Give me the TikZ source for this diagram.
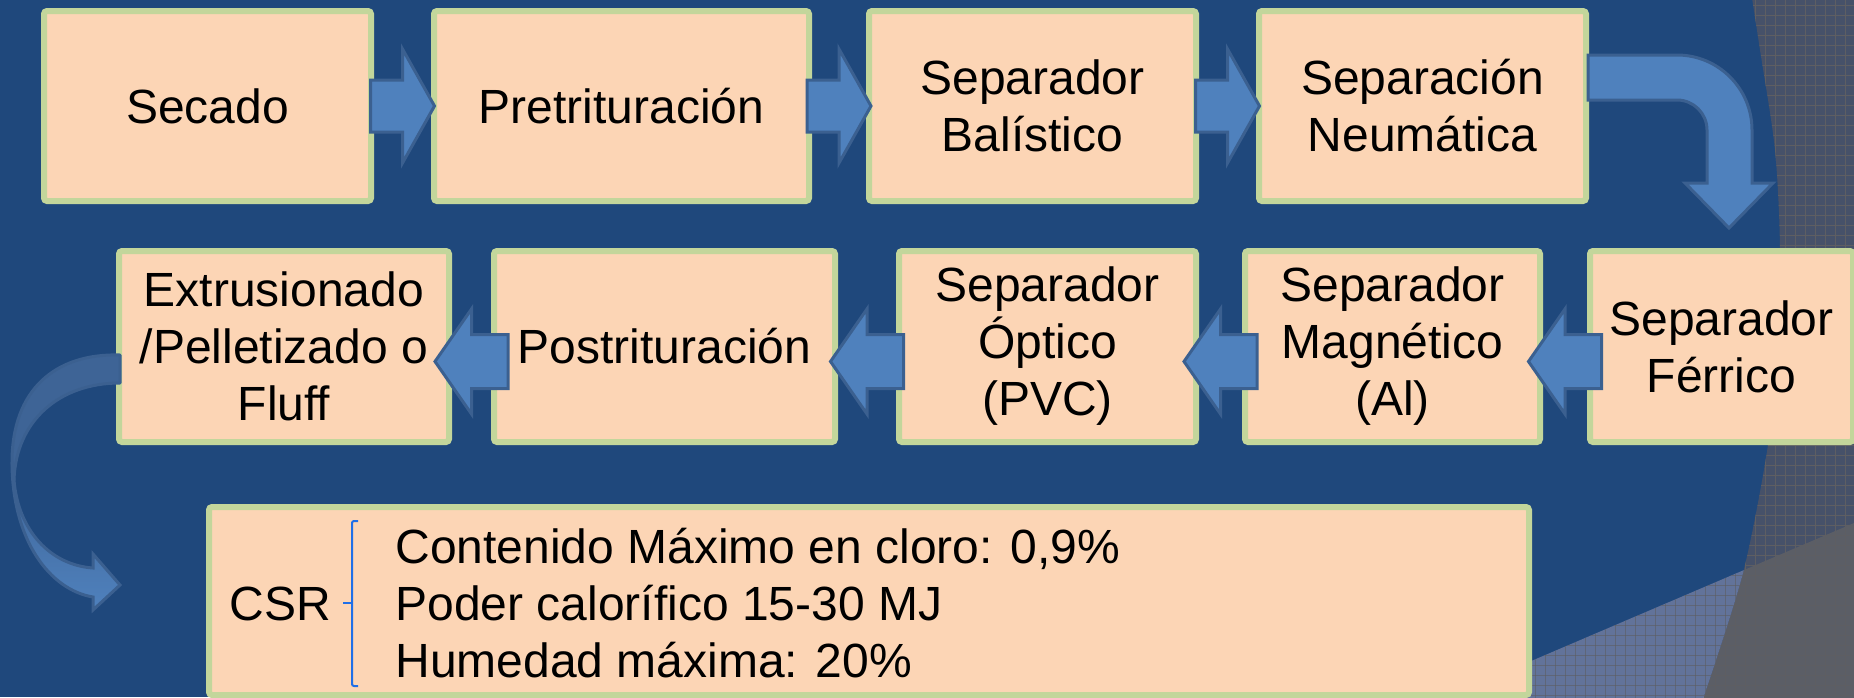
\documentclass[tikz,border=0pt]{standalone}
\usepackage{fontspec}
\setmainfont{Liberation Sans}
\usetikzlibrary{calc}
\definecolor{bgblue}{HTML}{1F487C}
\definecolor{boxfill}{HTML}{FCD5B5}
\definecolor{boxline}{HTML}{C3D69B}
\definecolor{arrfill}{HTML}{4F81BD}
\definecolor{arrline}{HTML}{3B6090}
\definecolor{arrdark}{HTML}{3E6496}
\definecolor{bracecol}{HTML}{1F6FE8}
\definecolor{texA}{HTML}{465169}
\definecolor{texB}{HTML}{62739A}
\definecolor{texC}{HTML}{5B5E66}
\definecolor{gridcol}{HTML}{5E5E62}
\tikzset{
  procbox/.style={draw=boxline, fill=boxfill, line width=3pt, rounded corners=1.5pt,
    align=center, font=\fontsize{24pt}{28.5pt}\selectfont, inner sep=0pt},
  blockarrow/.style={draw=arrline, fill=arrfill, line width=1.5pt, line join=miter},
  txt/.style={font=\fontsize{24pt}{28.5pt}\selectfont, inner sep=0pt},
  gridline/.style={draw=gridcol, line width=0.5pt},
  bracestyle/.style={draw=bracecol, line width=1pt},
}
\newcommand\arrowRight[2]{%
  \path ($(#1.east)!0.5!(#2.west)$) coordinate (m);
  \draw[blockarrow, shift={(m)}] (-32,-26) -- (0,-26) -- (0,-57) -- (32,0) -- (0,57) -- (0,26) -- (-32,26) -- cycle;}
\newcommand\arrowLeft[2]{%
  \path ($(#1.west)!0.5!(#2.east)$) coordinate (m);
  \draw[blockarrow, shift={(m)}] (36.5,-12) -- (0,-12) -- (0,-37.5) -- (-36.5,15) -- (0,67.5) -- (0,42) -- (36.5,42) -- cycle;}
\begin{document}
\begin{tikzpicture}[x=0.5pt, y=-0.5pt]
\useasboundingbox (0,0) rectangle (1854,697);
\fill[bgblue] (0,0) rectangle (1854,697);
% textured right-hand background
\begin{scope}
  \clip plot[smooth] coordinates {(1752,-2) (1760,50) (1775,150) (1780,250) (1777,350) (1768,445) (1743,573) (1703,699)} -- (1856,699) -- (1856,-2) -- cycle;
  \fill[texA] (1690,-2) rectangle (1856,699);
  \fill[texC] (1447,697) -- (1854,523) -- (1856,523) -- (1856,699) -- (1447,699) -- cycle;
  \foreach \gx in {1695,1705,...,1855} \draw[gridline] (\gx,-2) -- (\gx,699);
  \foreach \gy in {5,15,...,695} \draw[gridline] (1690,\gy) -- (1856,\gy);
\end{scope}
\begin{scope}
  \clip (1447,697) -- (1854,523) -- (1856,523) -- (1856,699) -- (1447,699) -- cycle;
  \clip plot[smooth] coordinates {(1752,-2) (1760,50) (1775,150) (1780,250) (1777,350) (1768,445) (1743,573) (1703,699)} -- (1400,699) -- (1400,-2) -- cycle;
  \fill[texB] (1440,500) rectangle (1856,699);
  \foreach \gx in {1445,1455,...,1855} \draw[gridline, opacity=0.6] (\gx,500) -- (\gx,699);
  \foreach \gy in {505,515,...,695} \draw[gridline, opacity=0.6] (1440,\gy) -- (1856,\gy);
\end{scope}

% row 1
\node[procbox, minimum width=163.5pt, minimum height=95pt] (sec) at (207.5,106) {Secado};
\node[procbox, minimum width=187.5pt, minimum height=95pt] (pre) at (621.5,106) {Pretrituración};
\node[procbox, minimum width=163.5pt, minimum height=95pt] (bal) at (1032.5,106) {Separador\\Balístico};
\node[procbox, minimum width=163.5pt, minimum height=95pt] (neu) at (1422.5,106) {Separación\\Neumática};
% row 2
\node[procbox, minimum width=165pt, minimum height=95.5pt] (ext) at (284,346.5) {Extrusionado\\/Pelletizado o\\Fluff};
\node[procbox, minimum width=170.5pt, minimum height=95.5pt] (pos) at (664.5,346.5) {Postrituración};
\node[procbox, minimum width=148.5pt, minimum height=95.5pt] (opt) at (1047.5,346.5) {Separador\\Óptico\\(PVC)};
\node[procbox, minimum width=147.5pt, minimum height=95.5pt] (mag) at (1392.5,346.5) {Separador\\Magnético\\(Al)};
\node[procbox, minimum width=131.5pt, minimum height=95.5pt] (fer) at (1721.5,346.5) {Separador\\Férrico};
% CSR box
\node[procbox, minimum width=660pt, minimum height=94pt] (csr) at (869,601) {};
\node[txt, anchor=base west] (csrlab) at (229,620) {CSR};
\node[txt, anchor=base west] (l1) at (395,563) {Contenido Máximo en cloro: 0,9\%};
\node[txt, anchor=base west] (l2) at (395,620) {Poder calorífico 15-30 MJ};
\node[txt, anchor=base west] (l3) at (395,677) {Humedad máxima: 20\%};
\draw[bracestyle, rounded corners=1pt] (358,521) -- (352,521) -- (352,686) -- (358,686);
\draw[bracestyle] (352,603) -- (343,603);

% straight block arrows
\arrowRight{sec}{pre}
\arrowRight{pre}{bal}
\arrowRight{bal}{neu}
\arrowLeft{fer}{mag}
\arrowLeft{mag}{opt}
\arrowLeft{opt}{pos}
\arrowLeft{pos}{ext}

% bent arrow from Neumatica down to Ferrico
\draw[blockarrow, shift={(neu.east)}] (-1,-51) -- (88,-51) arc[start angle=-90, end angle=0, radius=75]
  -- (163,77) -- (184,77) -- (140,122) -- (96,77) -- (118,77) -- (118,24)
  arc[start angle=0, end angle=-90, radius=30] -- (-1,-6) -- cycle;

% curved arrow from Extrusionado to CSR
\path[draw=arrline, line width=1.5pt, fill=arrdark, line join=round]
  (120,355) .. controls (55,353) and (12,390) .. (12,462) -- (14,480)
  .. controls (16,420) and (60,383) .. (120,383) -- cycle;
\path[draw=arrline, line width=1.5pt, top color=arrdark, bottom color=arrfill, line join=miter]
  (12,462) .. controls (12,540) and (50,590) .. (93,597) -- (93,610) -- (120,585) -- (93,554) -- (93,568)
  .. controls (50,565) and (18,530) .. (14,480) -- cycle;
\end{tikzpicture}
\end{document}
